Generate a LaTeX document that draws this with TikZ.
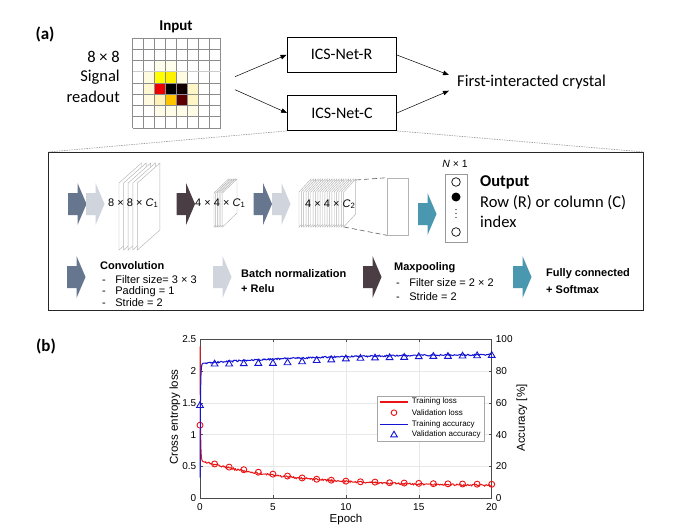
\documentclass[tikz,border=0pt]{standalone}
\usepackage{fontspec}
\setmainfont{Carlito}
\newfontfamily\arial{Liberation Sans}
\usetikzlibrary{arrows.meta}
\definecolor{convc}{HTML}{66768F}
\definecolor{bnc}{HTML}{CFD4DD}
\definecolor{poolc}{HTML}{4A3D43}
\definecolor{fcc}{HTML}{4A98B0}
\definecolor{sheetc}{HTML}{B4B4B4}
\definecolor{lossred}{HTML}{EB1414}
\definecolor{accblue}{RGB}{20,20,210}
\definecolor{gridc}{HTML}{8C8C8C}
\begin{document}
\begin{tikzpicture}[x=1pt,y=-1pt,
  icsbox/.style={draw=black, line width=0.8pt, minimum width=109pt, minimum height=35pt, inner sep=0pt, font=\fontsize{16}{19}\selectfont},
  arr/.style={-{Triangle[length=6pt,width=4.5pt]}, line width=0.5pt},
  big/.style={font=\fontsize{16.5}{19}\selectfont, inner sep=0pt},
  lay/.style={font=\arial\fontsize{11}{13}\selectfont, inner sep=0pt},
  leg/.style={font=\arial\fontsize{11}{13}\selectfont, inner sep=0pt, anchor=west},
  tick/.style={font=\arial\fontsize{10}{12}\selectfont, inner sep=0pt},
  axlab/.style={font=\arial\fontsize{11.5}{13}\selectfont, inner sep=0pt},
  lgd/.style={font=\arial\fontsize{8}{10}\selectfont, inner sep=0pt, anchor=west},
  sheet/.style={fill=white, draw=sheetc, line width=0.45pt},
  pics/barr/.style={code={\fill[#1] (0,-11) -- (9.5,-11) -- (9.5,-21) -- (18.5,0) -- (9.5,21) -- (9.5,11) -- (0,11) -- cycle;}}
]
\useasboundingbox[fill=white] (0,0) rectangle (682,532);
\pgfmathsetseed{7}

% ---------------- (a) top ----------------
\node[font=\bfseries\fontsize{17}{20}\selectfont, inner sep=0pt] (la) at (45,34) {(a)};
\node[font=\bfseries\fontsize{15}{17}\selectfont, inner sep=0pt] (input) at (176,27) {Input};
\node[big, anchor=east] (t88) at (120,57) {8 × 8};
\node[big, anchor=east] (tsig) at (120,77) {Signal};
\node[big, anchor=east] (tread) at (120,97) {readout};

% heat map cells
\begin{scope}[shift={(132.5,38)}]
  \foreach \c/\r/\col in {2/2/FFFDEB,3/2/FFFDEB,1/3/FFFBE0,4/3/FFFBE0,1/4/FFF8D2,5/4/FFF6C8,1/5/FFFAE0,2/5/FFF2B8,5/5/FFF6C8,2/6/FFFDE8,3/6/FFFDE8,4/6/FFFDE8,5/6/FFFDE8,
                          2/3/FFFF00,3/3/FFF200,2/4/EE0000,3/4/000000,4/4/120000,3/5/FFC400,4/5/5C0000} {
    \definecolor{cellc}{HTML}{\col}
    \fill[cellc] (11*\c,11.25*\r) rectangle ++(11,11.25);
  }
  \foreach \i in {0,...,8} {
    \draw[gridc, line width=0.6pt] (11*\i,0) -- (11*\i,90);
    \draw[gridc, line width=0.6pt] (0,11.25*\i) -- (88,11.25*\i);
  }
  \draw[gray!40, line width=1.4pt] (0,33.75) -- (88,33.75);
\end{scope}

\node[icsbox] (icsr) at (341.5,54.8) {ICS-Net-R};
\node[icsbox] (icsc) at (342,113) {ICS-Net-C};
\node[big, anchor=west] (fic) at (457,82) {First-interacted crystal};

\coordinate (g1) at (235,76.7);
\coordinate (g2) at (235,89.7);
\coordinate (f1) at (449,75);
\coordinate (f2) at (449,90.7);
\draw[arr] (g1) -- (icsr.west);
\draw[arr] (g2) -- (icsc.west);
\draw[arr] (icsr.east) -- (f1);
\draw[arr] (icsc.east) -- (f2);

% ---------------- lower box ----------------
\node[draw=black!85, line width=1.1pt, minimum width=595pt, minimum height=158pt, anchor=north west, inner sep=0pt] (lowbox) at (48,152) {};
\draw[gray!80, dash pattern=on 1.5pt off 1pt, line width=0.6pt] (icsc.south west) -- (lowbox.north west);
\draw[gray!80, dash pattern=on 1.5pt off 1pt, line width=0.6pt] (icsc.south east) -- (lowbox.north east);

% network row
\pic at (68,204) {barr=convc};
\pic at (86,204) {barr=bnc};
\foreach \k in {0,...,4} {
  \pgfmathsetmacro\xo{119+4.6*\k}
  \draw[sheet] (\xo,183) -- ++(22.5,-20) -- ++(0,67) -- ++(-22.5,20) -- cycle;
}
\node[lay, anchor=west] (s1) at (108,203) {8 × 8 × \textit{C}\textsubscript{1}};
\pic at (176.5,204) {barr=poolc};
\foreach \k in {0,...,5} {
  \pgfmathsetmacro\xo{214+1.7*\k}
  \draw[sheet] (\xo,193) -- ++(14.5,-14) -- ++(0,34) -- ++(-14.5,14) -- cycle;
}
\node[lay, anchor=west] (s2) at (195,203) {4 × 4 × \textit{C}\textsubscript{1}};
\pic at (253.5,204) {barr=convc};
\pic at (272,204) {barr=bnc};
\foreach \k in {0,...,19} {
  \pgfmathsetmacro\xo{299+2.35*\k}
  \draw[sheet] (\xo,192) -- ++(12,-13) -- ++(0,35) -- ++(-12,13) -- cycle;
}
\node[lay, anchor=west] (s3) at (305,204) {4 × 4 × \textit{C}\textsubscript{2}};
\node[draw=sheetc, line width=0.6pt, minimum width=21pt, minimum height=57pt, inner sep=0pt] (fc) at (397.8,206.5) {};
\coordinate (st1) at (356,180);
\coordinate (st2) at (344,227);
\draw[gray!75!black, dash pattern=on 5pt off 3pt, line width=0.6pt] (st1) -- (fc.north west);
\draw[gray!75!black, dash pattern=on 5pt off 3pt, line width=0.6pt] (st2) -- (fc.south west);
\pic at (418,214) {barr=fcc};

\node[draw=gray!80, line width=0.6pt, minimum width=22pt, minimum height=68pt, inner sep=0pt] (outv) at (456,208) {};
\node[font=\arial\fontsize{10.5}{12}\selectfont, inner sep=0pt] (nx1) at (455,164) {\textit{N} × 1};
\draw[line width=0.7pt] (456,182) circle[radius=4.3pt];
\fill (456,197) circle[radius=4.5pt];
\foreach \yy in {209.5,213.5,217.5} \fill (456,\yy) circle[radius=0.55pt];
\draw[line width=0.7pt] (456,232) circle[radius=4.3pt];
\node[big, anchor=west, font=\bfseries\fontsize{16.5}{19}\selectfont] (outt) at (480,182) {Output};
\node[big, anchor=west] (rowt) at (480,203) {Row (R) or column (C)};
\node[big, anchor=west] (idxt) at (480,222) {index};

% legend row
\pic at (67,277) {barr=convc};
\node[leg, font=\arial\bfseries\fontsize{11}{13}\selectfont] (lconv) at (100,266) {Convolution};
\node[leg] (lc1) at (102,279.5) {-\hspace{9.5pt}Filter size= 3 × 3};
\node[leg] (lc2) at (102,291.5) {-\hspace{9.5pt}Padding = 1};
\node[leg] (lc3) at (102,303) {-\hspace{9.5pt}Stride = 2};
\pic at (213,277) {barr=bnc};
\node[leg, font=\arial\bfseries\fontsize{11}{13}\selectfont] (lbn1) at (241,274) {Batch normalization};
\node[leg, font=\arial\bfseries\fontsize{11}{13}\selectfont] (lbn2) at (241,289) {+ Relu};
\pic at (363,277) {barr=poolc};
\node[leg, font=\arial\bfseries\fontsize{11}{13}\selectfont] (lmp) at (394,268) {Maxpooling};
\node[leg] (lm1) at (396,283) {-\hspace{9.5pt}Filter size = 2 × 2};
\node[leg] (lm2) at (396,297) {-\hspace{9.5pt}Stride = 2};
\pic at (513,277) {barr=fcc};
\node[leg, font=\arial\bfseries\fontsize{11}{13}\selectfont] (lfc1) at (546,274) {Fully connected};
\node[leg, font=\arial\bfseries\fontsize{11}{13}\selectfont] (lfc2) at (546,290) {+ Softmax};

% ---------------- (b) plot ----------------
\node[font=\bfseries\fontsize{17}{20}\selectfont, inner sep=0pt] (lb) at (46,346) {(b)};

\begin{scope}[shift={(200,498.3)}, x=14.585pt, y=63.6pt]
  \foreach \e in {5,10,15} \draw[gray!18, line width=0.5pt] (\e,0) -- (\e,2.5);
  \foreach \v in {0.5,1,1.5,2} \draw[gray!18, line width=0.5pt] (0,\v) -- (20,\v);
  \draw[black!70, line width=0.6pt] (0,0) rectangle (20,2.5);
  \foreach \e in {0,5,10,15,20} {
    \draw[black!70, line width=0.5pt] (\e,0) -- ++(0,3pt);
    \draw[black!70, line width=0.5pt] (\e,2.5) -- ++(0,-3pt);
    \node[tick, anchor=north] at ([yshift=-5pt]\e,0) {\e};
  }
  \foreach \v in {0,0.5,1,1.5,2,2.5} {
    \draw[black!70, line width=0.5pt] (0,\v) -- ++(3pt,0);
    \node[tick, anchor=east] at ([xshift=-3.5pt]0,\v) {\v};
  }
  \draw[lossred, line width=1pt] plot[domain=0:0.4, samples=30] (\x, {0.19+0.4*exp(-\x/6)+1.8*exp(-\x/0.03)})
     -- plot[domain=0.4:20, samples=330] (\x, {0.19+0.4*exp(-\x/6)+0.014*rand});
  \foreach \e/\v in {0/1.15,1/0.54,2/0.49,3/0.45,4/0.41,5/0.38,6/0.35,7/0.32,8/0.30,9/0.285,10/0.27,11/0.26,12/0.255,13/0.245,14/0.24,15/0.235,16/0.23,17/0.228,18/0.225,19/0.222,20/0.22}
    \draw[lossred, line width=0.9pt] (\e,\v) circle[radius=3pt];
\end{scope}

\begin{scope}[shift={(200,498.3)}, x=14.585pt, y=1.59pt]
  \foreach \a in {0,20,40,60,80,100} {
    \draw[black!70, line width=0.5pt] (20,\a) -- ++(-3pt,0);
    \node[tick, anchor=west] at ([xshift=4pt]20,\a) {\a};
  }
  \draw[accblue, line width=1pt] plot[domain=0:0.4, samples=30] (\x, {(90.8-6*exp(-\x/8)) - (77.8-6*exp(-\x/8))*exp(-\x/0.03)})
     -- plot[domain=0.4:20, samples=330] (\x, {90.8-6*exp(-\x/8)+0.5*rand});
  \foreach \e/\a in {0/58.5,1/84.6,2/84.6,3/84.8,4/85,5/85,6/85.4,7/86,8/86.8,9/87.2,10/87.8,11/88.2,12/88.4,13/88.6,14/88.8,15/89.2,16/89.4,17/89.4,18/89.6,19/89.8,20/90}
    \draw[accblue, line width=0.9pt] (\e,\a) ++(0pt,3.6pt) -- ++(-3.4pt,-5.8pt) -- ++(6.8pt,0pt) -- cycle;
\end{scope}

\node[axlab, rotate=90] (ylab) at (175,417) {Cross entropy loss};
\node[axlab, rotate=90] (ylab2) at (522,418) {Accuracy [\%]};
\node[axlab] (xlab) at (346,520) {Epoch};

% plot legend
\node[draw=gray!70, fill=white, line width=0.5pt, minimum width=107pt, minimum height=44.7pt, anchor=north west, inner sep=0pt] (lgbox) at (376.7,396) {};
\draw[lossred, line width=1.1pt] (380,402) -- (408,402);
\draw[lossred, line width=0.9pt] (394,412.7) circle[radius=2.8pt];
\draw[accblue, line width=1pt] (380,424) -- (408,424);
\draw[accblue, line width=0.9pt] (394,431.2) -- ++(-3.3,5.6) -- ++(6.6,0) -- cycle;
\node[lgd] (lg1) at (411.7,401.7) {Training loss};
\node[lgd] (lg2) at (411.7,412.7) {Validation loss};
\node[lgd] (lg3) at (411.7,424) {Training accuracy};
\node[lgd] (lg4) at (411.7,434.3) {Validation accuracy};
\end{tikzpicture}
\end{document}
